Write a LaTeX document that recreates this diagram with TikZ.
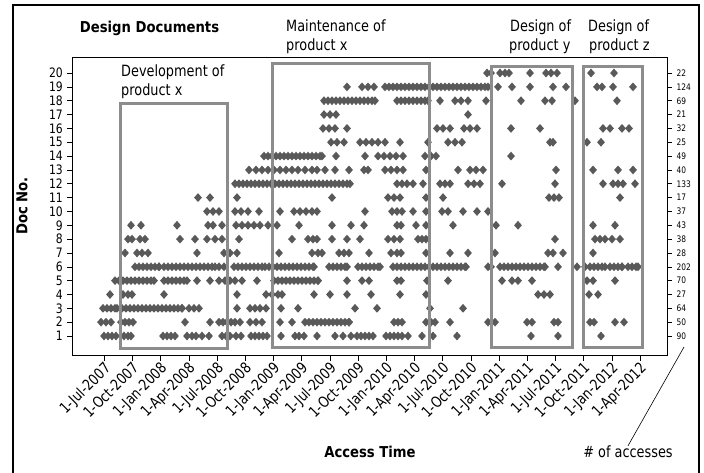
\documentclass[tikz,border=0pt]{standalone}
\usepackage{fontspec}
\setmainfont{DejaVu Sans}
\newfontfamily\dvlbl{DejaVu Sans}[FakeStretch=0.83]
\newfontfamily\dvbold{DejaVu Sans}[FakeStretch=0.88]
\definecolor{dotc}{RGB}{89,89,89}
\definecolor{boxc}{RGB}{140,140,140}
\newcommand\dr[2]{\foreach \xx in {#2}{\fill[dotc] ({\xx},{336-(#1-1)*13.84}) +(-3.9,0) -- +(0,4.4) -- +(3.9,0) -- +(0,-4.4) -- cycle;}}
\newcommand\ds[3]{\pgfmathtruncatemacro\dsN{(#3-#2)/4}\foreach \k in {0,...,\dsN}{\fill[dotc] ({#2+\k*4},{336-(#1-1)*13.84}) +(-3.9,0) -- +(0,4.4) -- +(3.9,0) -- +(0,-4.4) -- cycle;}\dr{#1}{#3}}
\begin{document}
\begin{tikzpicture}[x=1pt,y=-1pt,
  lbl/.style={font=\dvlbl\fontsize{15.5}{19}\selectfont, inner sep=0pt},
  ttl/.style={font=\dvbold\bfseries\fontsize{15}{18}\selectfont, inner sep=0pt},
  ytl/.style={font=\dvlbl\fontsize{13}{13}\selectfont, inner sep=0pt, anchor=east},
  rtl/.style={font=\dvlbl\fontsize{9}{9}\selectfont, inner sep=0pt, anchor=west},
  xtl/.style={font=\dvlbl\fontsize{15}{15}\selectfont, inner sep=0pt, anchor=north east, rotate=45},
  phase/.style={draw=boxc, line width=3pt},
  axisline/.style={draw=black, line width=0.8pt},
  tickline/.style={draw=black, line width=0.6pt}]
\useasboundingbox (0,0) rectangle (704,472);
% outer frame
\draw[line width=2pt] (13,5) rectangle (699,485);
% data
\dr{1}{104,108,112,116,124,128,131,163,167,171,175,187,192,196,202,209,222,226,230,236,241,251,255,259,263,267,281,295,299,304,317,335,343,351,357,361,365,369,373,386,390,394,398,402,408,422,433,457,531,558,601}
\dr{2}{101,106,111,121,125,129,133,185,210,219,223,227,231,235,240,250,256,262,280,292,394,398,402,426,431,435,450,488,495,527,532,554,558,590,594,615,624}
\ds{2}{305}{349}
\ds{3}{103}{117}\ds{3}{122}{182}
\dr{3}{189,194,199,237,250,255,260,266,281,298,355,377,430,463}
\dr{4}{110,123,128,132,164,237,266,272,278,282,314,330,347,371,400,426,538,544,550,589,598}
\ds{5}{115}{154}\ds{5}{164}{187}\ds{5}{274}{318}
\dr{5}{197,210,219,225,230,235,242,257,347,362,369,397,401,427,448,502,512,518,532,587,593,615}
\ds{6}{135}{159}\ds{6}{164}{215}\ds{6}{234}{265}\ds{6}{269}{314}\ds{6}{329}{347}\ds{6}{358}{380}\ds{6}{393}{466}\ds{6}{500}{545}\ds{6}{590}{605}\ds{6}{610}{622}\ds{6}{628}{638}
\dr{6}{219,224,488,491,558,577,585}
\dr{7}{125,137,142,148,197,224,230,237,279,312,318,322,339,344,349,369,391,397,401,426,450,468,495,548,553,563,593}
\dr{8}{128,132,140,145,180,195,207,215,222,239,292,308,313,317,332,347,360,388,394,400,418,422,426,555,595,600,605,612,620}
\dr{9}{131,141,177,208,213,222,236,242,248,254,260,268,277,299,332,351,364,397,401,416,426,453,496,518,593,615}
\dr{10}{207,213,219,235,241,248,259,280,294,300,306,312,317,365,392,397,402,413,426,442,448,463,477,488}
\dr{11}{198,210,237,332,388,394,400,426,443,549,554,559,620}
\ds{12}{235}{350}
\dr{12}{397,402,407,413,423,440,445,450,468,474,480,502,555,603,613,618,623,635}
\dr{13}{249,256,262,268,274,280,286,292,298,305,312,317,325,335,349,364,368,385,391,397,403,426,458,470,476,483,556,593,618,633}
\ds{14}{264}{322}
\dr{14}{336,365,378,384,390,396,403,425,431,436,511}
\dr{15}{331,337,344,360,366,372,378,385,400,428,448,455,462,550,553,587,601}
\dr{16}{323,329,335,347,437,443,450,464,470,477,511,540,603,610,622,629}
\dr{17}{324,330,336,468}
\ds{18}{324}{375}\ds{18}{397}{428}
\dr{18}{440,455,461,468,486,521,545,552,575,617}
\ds{19}{385}{488}
\dr{19}{347,362,368,374,498,512,530,553,566,597,602,613,633}
\dr{20}{487,491,500,505,509,530,546,551,557,591,614}
% phase boxes
\draw[phase] (120,103) rectangle (227,348);
\draw[phase] (272,63) rectangle (429,347);
\draw[phase] (491,66) rectangle (572,347);
\draw[phase] (583,66) rectangle (642,347);
% plot frame
\draw[axisline] (72,57) rectangle (667,355);
% y ticks and labels
\foreach \r in {1,...,20}{
  \draw[tickline] (67,{336-(\r-1)*13.84}) -- (72,{336-(\r-1)*13.84});
  \draw[tickline] (667,{336-(\r-1)*13.84}) -- (672,{336-(\r-1)*13.84});
  \node[ytl] (yl\r) at (63,{336-(\r-1)*13.84}) {\r};
}
\foreach \v [count=\r] in {90,50,64,27,70,202,28,38,43,37,17,133,40,49,25,32,21,69,124,22}{
  \node[rtl] (rl\r) at (676.5,{336-(\r-1)*13.84}) {\v};
}
% x ticks and labels
\foreach \lab [count=\i from 0] in {1-Jul-2007,1-Oct-2007,1-Jan-2008,1-Apr-2008,1-Jul-2008,1-Oct-2008,1-Jan-2009,1-Apr-2009,1-Jul-2009,1-Oct-2009,1-Jan-2010,1-Apr-2010,1-Jul-2010,1-Oct-2010,1-Jan-2011,1-Apr-2011,1-Jul-2011,1-Oct-2011,1-Jan-2012,1-Apr-2012}{
  \draw[tickline] ({104.3+\i*28.2},355) -- ({104.3+\i*28.2},361);
  \node[xtl] (xt\i) at ({104.3+\i*28.2-1},361) {\lab};
}
% texts
\node[ttl] (title) at (149.5,28) {Design Documents};
\node[lbl, anchor=base west] (dev1) at (121,76) {Development of};
\node[lbl, anchor=base west] (dev2) at (121,95) {product x};
\node[lbl, anchor=base west] (mnt1) at (286,31) {Maintenance of};
\node[lbl, anchor=base west] (mnt2) at (286,50) {product x};
\node[lbl, anchor=base west] (dy1) at (510,31) {Design of};
\node[lbl, anchor=base west] (dy2) at (509,50) {product y};
\node[lbl, anchor=base west] (dz1) at (588,31) {Design of};
\node[lbl, anchor=base west] (dz2) at (589,50) {product z};
\node[ttl, rotate=90] (ylab) at (22,206) {Doc No.};
\node[ttl] (xlab) at (370,452) {Access Time};
\node[lbl] (acc) at (628,452) {\# of accesses};
\coordinate (accend) at (684,347);
\draw[line width=0.6pt] (acc.north) -- (accend);
\end{tikzpicture}
\end{document}
